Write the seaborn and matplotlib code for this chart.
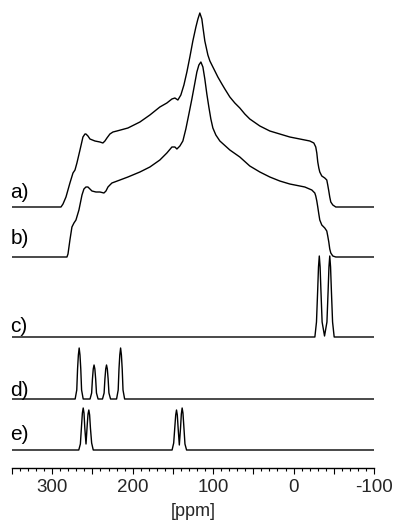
import matplotlib
matplotlib.use("Agg")
import matplotlib.pyplot as plt
from matplotlib.ticker import MultipleLocator, FuncFormatter
import seaborn as sns
import pandas as pd

# ---- data (chemical shift in ppm, relative intensity) ----
a_ppm = [350, 289.1, 286.6, 282.9, 278.0, 274.2, 271.7, 269.3, 265.5, 261.8, 259.3, 258.1,
         255.6, 253.1, 246.9, 240.7, 237.0, 234.5, 232.0, 228.3, 224.5, 219.6, 205.9, 191.0,
         178.6, 166.2, 157.5, 151.2, 147.5, 143.8, 140.1, 136.3, 132.6, 128.9, 125.2, 121.4,
         118.9, 116.5, 114.0, 112.7, 110.3, 106.5, 104.0, 100.3, 97.8, 94.1, 89.1, 85.4, 79.2,
         73.0, 66.8, 60.6, 54.4,
         41.9, 29.5, 17.1, 4.7, -7.8, -20.2, -25.2, -27.6, -28.9, -30.1, -31.4, -32.6, -35.1,
         -38.8, -41.3, -42.5, -43.8, -45.0, -46.3, -48.8, -52.5, -100]
a_int = [0, 0, 3, 10, 24, 34, 37, 44, 57, 70, 73, 73,
         71, 68, 66, 65, 64, 66, 69, 73, 75, 76, 79, 85,
         92, 100, 104, 108, 109, 107, 112, 122, 135, 150, 166, 180,
         188, 194, 188, 180, 166, 152, 146, 140, 136, 130, 123, 118, 110,
         104, 99, 93, 88,
         81, 76, 73, 70, 68, 66, 64, 60, 54, 45, 39, 35, 31,
         29, 27, 22, 16, 10, 5, 2, 0, 0]

b_ppm = [350, 281.7, 280.4, 278.0, 275.5, 273.0, 270.5, 266.8, 263.0, 260.6, 258.1, 255.6,
         250.6, 245.7, 240.7, 235.7, 233.2, 230.7, 228.3, 225.8, 215.8, 205.9, 191.0, 178.6,
         166.2, 157.5, 151.2, 147.5, 145.0, 141.3, 137.6, 133.9, 130.1, 126.4, 122.7, 120.2,
         117.7, 115.2, 112.7, 110.3, 107.8, 105.3, 102.8, 100.3, 96.6, 91.6, 79.2, 66.8, 54.4,
         41.9, 29.5, 17.1, 4.7, -7.8, -14.0, -22.7, -26.4, -27.6, -28.9, -30.1, -31.4, -32.6,
         -35.1, -38.8, -41.3, -42.5, -43.8, -45.0, -46.3, -48.8, -52.5, -100]
b_int = [0, 0, 3, 17, 30, 34, 37, 47, 62, 68, 70, 70,
         66, 65, 65, 64, 66, 70, 72, 74, 77, 80, 85, 90,
         97, 104, 110, 110, 108, 111, 116, 128, 143, 158, 174, 185,
         192, 195, 190, 178, 163, 150, 138, 129, 122, 116, 107, 100, 91,
         85, 80, 76, 73, 71, 70, 67, 64, 61, 56, 50, 43, 37,
         32, 29, 26, 21, 15, 8, 4, 1, 0, 0]

c_ppm = [350, -26.5, -28.5, -30, -31, -32, -33, -34, -35.5, -38.5,
         -41.5, -43, -44, -45, -46, -47, -48.5, -50.5, -100]
c_int = [0, 0, 15, 47, 70, 81, 70, 47, 15, 1,
         15, 47, 70, 81, 70, 47, 15, 0, 0]

d_ppm = [350, 271.5, 269.5, 268.5, 267.5, 266.5, 265.5, 264.5, 263.5, 261.5,
         253, 251, 250, 249, 248, 247, 246, 245, 243,
         237.5, 235.5, 234.5, 233.5, 232.5, 231.5, 230.5, 229.5, 227.5,
         220, 218, 217, 216, 215, 214, 213, 212, 210, -100]
d_int = [0, 0, 9, 30, 44, 51, 44, 30, 9, 0,
         0, 6, 20, 30, 34, 30, 20, 6, 0,
         0, 6, 20, 30, 34, 30, 20, 6, 0,
         0, 9, 30, 44, 51, 44, 30, 9, 0, 0]

e_ppm = [350, 267, 265, 263.5, 262.5, 261.5, 260.5, 259.5, 258, 256.5, 255.5, 254.5,
         253.5, 252.5, 251, 249,
         151, 149, 147.5, 146.5, 145.5, 144.5, 143.5, 142, 140.5, 139.5, 138.5,
         137.5, 136.5, 135, 133, -100]
e_int = [0, 0, 6, 25, 37, 42, 37, 22, 6, 25, 36, 40,
         35, 22, 7, 0,
         0, 7, 24, 35, 40, 35, 22, 5, 22, 36, 42,
         37, 25, 6, 0, 0]

trace_names = ["a)", "b)", "c)", "d)", "e)"]
trace_ppm = [a_ppm, b_ppm, c_ppm, d_ppm, e_ppm]
trace_int = [a_int, b_int, c_int, d_int, e_int]

# ---- layout (stacking offsets, label positions) ----
offsets = [261, 211, 131, 69, 18]
label_y = [270, 224, 136, 72, 28]

sns.set_theme(style="white")
plt.rcParams["font.family"] = ["Liberation Sans", "DejaVu Sans"]
plt.rcParams["axes.unicode_minus"] = False

fig = plt.figure(figsize=(3.94, 5.25), dpi=100)
ax = fig.add_axes([12 / 394, 57 / 525, 362 / 394, 458 / 525])

rows = []
for name, xs, ys, off in zip(trace_names, trace_ppm, trace_int, offsets):
    for i, (x, y) in enumerate(zip(xs, ys)):
        rows.append({"trace": name, "idx": i, "ppm": x, "y": y + off})
df = pd.DataFrame(rows)

for name in trace_names:
    sub = df[df["trace"] == name]
    sns.lineplot(data=sub, x="ppm", y="y", sort=False, estimator=None,
                 color="black", linewidth=1.0, ax=ax)
for ln in ax.lines:
    ln.set_solid_joinstyle("round")

for name, ly in zip(trace_names, label_y):
    ax.text(352, ly, name, ha="left", va="baseline", fontsize=15, color="black")

ax.set_xlim(350, -100)
ax.set_ylim(0, 458)
ax.set_facecolor("white")
for s in ["left", "top", "right"]:
    ax.spines[s].set_visible(False)
ax.spines["bottom"].set_color("black")
ax.spines["bottom"].set_linewidth(1.0)
ax.set_yticks([])
ax.set_ylabel("")
ax.xaxis.set_major_locator(MultipleLocator(50))
ax.xaxis.set_minor_locator(MultipleLocator(10))
ax.xaxis.set_major_formatter(FuncFormatter(
    lambda v, p: f"{int(round(v))}" if round(v) % 100 == 0 else ""))
ax.tick_params(axis="x", which="major", direction="out", length=4, width=0.8,
               color="black", labelsize=13.5, pad=4, bottom=True)
ax.tick_params(axis="x", which="minor", direction="out", length=2, width=0.8,
               color="black", bottom=True)
ax.set_xlabel("[ppm]", fontsize=13, labelpad=5)

fig.savefig("out.png", dpi=100, facecolor="white")
